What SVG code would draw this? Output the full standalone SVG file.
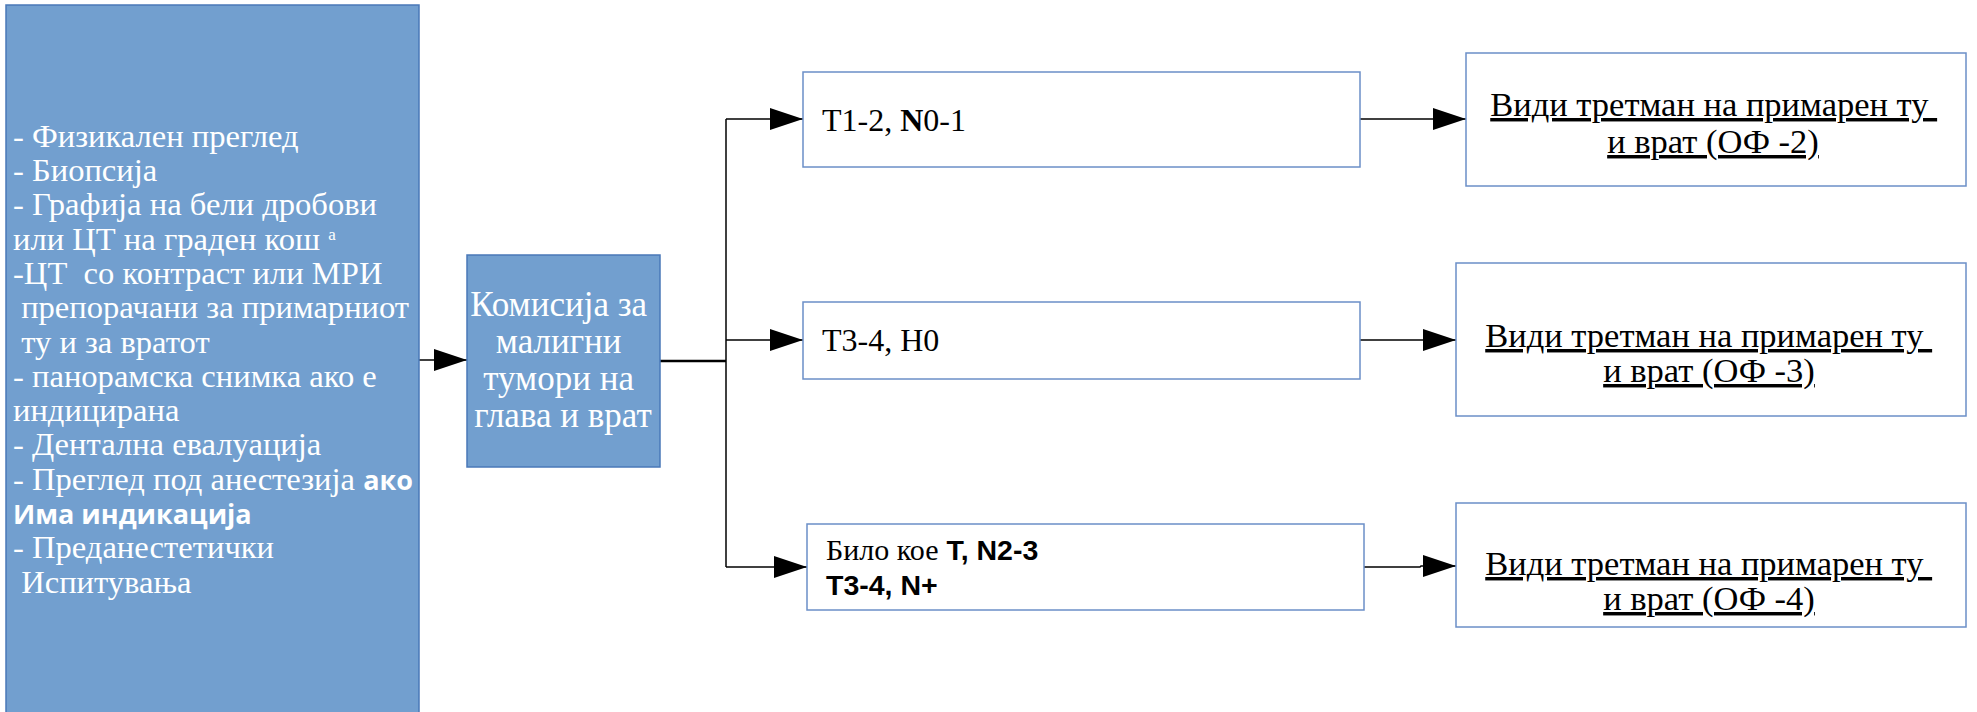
<svg xmlns="http://www.w3.org/2000/svg" width="1977" height="712" viewBox="0 0 1977 712">
<style>
.blue{fill:#729fcf;stroke:#4a78b8;stroke-width:1.5}
.wbox{fill:#ffffff;stroke:#6b8fc7;stroke-width:1.5}
.ser{font-family:"Liberation Serif","Times New Roman",serif}
.wt{fill:#ffffff}
.bk{fill:#000000}
.sb{font-family:"Open Sans","Noto Sans",sans-serif;font-weight:bold}
.ab{font-family:"Liberation Sans",Arial,sans-serif;font-weight:bold}
.ln{stroke:#000;stroke-width:1.5;fill:none}
.u{text-decoration:underline;white-space:pre}
</style>
<defs>
<marker id="ah" markerWidth="34" markerHeight="22" refX="33" refY="11" orient="auto" markerUnits="userSpaceOnUse">
<path d="M0,0 L33,11 L0,22 Z" fill="#000"/>
</marker>
</defs>
<g id="connectors">
<line class="ln" x1="419" y1="360" x2="467" y2="360" marker-end="url(#ah)"/>
<line class="ln" x1="660" y1="361" x2="726" y2="361" style="stroke-width:2.5"/>
<line class="ln" x1="726" y1="119" x2="726" y2="567"/>
<line class="ln" x1="726" y1="119" x2="803" y2="119" marker-end="url(#ah)"/>
<line class="ln" x1="726" y1="340" x2="803" y2="340" marker-end="url(#ah)"/>
<line class="ln" x1="726" y1="567" x2="807" y2="567" marker-end="url(#ah)"/>
<line class="ln" x1="1360" y1="119" x2="1466" y2="119" marker-end="url(#ah)"/>
<line class="ln" x1="1360" y1="340" x2="1456" y2="340" marker-end="url(#ah)"/>
<polyline class="ln" points="1364,567 1420,567 1421,566 1456,566" marker-end="url(#ah)"/>
</g>
<g id="node-workup">
<rect class="blue" x="6" y="5" width="413" height="712"/>
<text class="ser wt" font-size="32.6" xml:space="preserve">
<tspan x="13" y="147">- Физикален преглед</tspan>
<tspan x="13" y="181">- Биопсија</tspan>
<tspan x="13" y="215">- Графија на бели дробови</tspan>
<tspan x="13" y="250">или ЦТ на граден кош <tspan font-size="17" dy="-10">а</tspan></tspan>
<tspan x="13" y="284">-ЦТ  со контраст или МРИ</tspan>
<tspan x="13" y="318"> препорачани за примарниот</tspan>
<tspan x="13" y="353"> ту и за вратот</tspan>
<tspan x="13" y="387">- панорамска снимка ако е</tspan>
<tspan x="13" y="421">индицирана</tspan>
<tspan x="13" y="455">- Дентална евалуација</tspan>
<tspan x="13" y="490">- Преглед под анестезија <tspan class="sb" font-size="27">ако</tspan></tspan>
<tspan x="13" y="524" class="sb" font-size="27">Има индикација</tspan>
<tspan x="13" y="558">- Преданестетички</tspan>
<tspan x="13" y="593"> Испитувања</tspan>
</text>
</g>
<g id="node-commission">
<rect class="blue" x="467" y="255" width="193" height="212"/>
<text class="ser wt" font-size="35" text-anchor="middle">
<tspan x="563" y="316">Комисија за</tspan>
<tspan x="563" y="353">малигни</tspan>
<tspan x="563" y="390">тумори на</tspan>
<tspan x="563" y="427">глава и врат</tspan>
</text>
</g>
<g id="node-t12">
<rect class="wbox" x="803" y="72" width="557" height="95"/>
<text class="ser bk" font-size="32" x="822" y="131">T1-2, <tspan font-weight="bold">N</tspan>0-1</text>
</g>
<g id="node-t34">
<rect class="wbox" x="803" y="302" width="557" height="77"/>
<text class="ser bk" font-size="32" x="822" y="351">T3-4, H0</text>
</g>
<g id="node-any">
<rect class="wbox" x="807" y="524" width="557" height="86"/>
<text class="bk" font-size="28.5">
<tspan x="826" y="560" class="ser" font-size="30">Било кое</tspan><tspan class="ab"> T, N2-3</tspan>
<tspan x="826" y="595" class="ab">T3-4, N+</tspan>
</text>
</g>
<g id="node-of2">
<rect class="wbox" x="1466" y="53" width="500" height="133"/>
<text class="ser bk" font-size="34.5" text-anchor="middle">
<tspan class="u" x="1718" y="116">Види третман на примарен ту </tspan>
<tspan class="u" x="1713" y="153">и врат (ОФ -2)</tspan>
</text>
</g>
<g id="node-of3">
<rect class="wbox" x="1456" y="263" width="510" height="153"/>
<text class="ser bk" font-size="34.5" text-anchor="middle">
<tspan class="u" x="1713" y="347">Види третман на примарен ту </tspan>
<tspan class="u" x="1709" y="382">и врат (ОФ -3)</tspan>
</text>
</g>
<g id="node-of4">
<rect class="wbox" x="1456" y="503" width="510" height="124"/>
<text class="ser bk" font-size="34.5" text-anchor="middle">
<tspan class="u" x="1713" y="575">Види третман на примарен ту </tspan>
<tspan class="u" x="1709" y="610">и врат (ОФ -4)</tspan>
</text>
</g>
</svg>
